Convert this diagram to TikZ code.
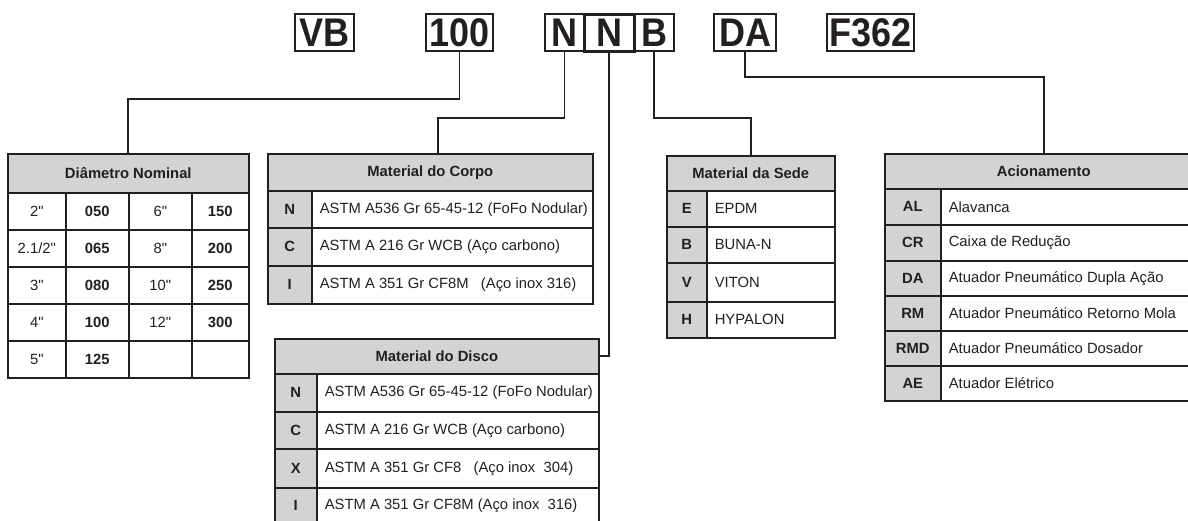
\documentclass[tikz,border=0pt]{standalone}
\usepackage{fontspec}
\setmainfont{Liberation Sans}[Ligatures=TeXOff]
\newfontfamily\codefont{Liberation Sans}[FakeStretch=0.9]
\definecolor{ink}{HTML}{231F20}
\definecolor{shade}{HTML}{D3D3D4}
\newcommand\fs{\fontsize{14.8}{16}\selectfont}
\newcommand\Cell[7]{%
  \node[cell,minimum width=#4pt,minimum height=#5pt,#6] (#1) at (#2,#3) {#7};}
\newcommand\DCell[6]{%
  \pgfmathsetmacro\tw{#4-4}%
  \node[cell,minimum width=#4pt,minimum height=#5pt] (#1) at (#2,#3) {\makebox[\tw pt][l]{\hspace*{6pt}#6}};}
\newcommand\DRow[6]{%
  \Cell{d#1a}{7}{#2}{58}{37}{}{#3}
  \Cell{d#1b}{65}{#2}{63}{37}{val}{#4}
  \Cell{d#1c}{128}{#2}{63}{37}{}{#5}
  \Cell{d#1d}{191}{#2}{57}{37}{val}{#6}}
\begin{document}
\begin{tikzpicture}[x=1pt,y=-1pt,
  cell/.style={draw=ink,line width=1.6pt,inner sep=0pt,anchor=north west,font=\fs,align=center,text=ink},
  hd/.style={fill=shade,font=\fs\bfseries},
  key/.style={fill=shade,font=\fs\bfseries},
  val/.style={font=\fs\bfseries},
  topbox/.style={draw=ink,line width=2.2pt,inner sep=0pt,anchor=north west,minimum height=37pt,text=ink,
    font=\codefont\fontsize{40}{40}\selectfont\bfseries},
  conn/.style={draw=ink,line width=1.7pt}]
\useasboundingbox (0,0) rectangle (1188,520);

% code boxes
\node[topbox,minimum width=59pt] (vb) at (294,13) {VB};
\node[topbox,minimum width=67pt] (h100) at (425,13) {100};
\node[topbox,minimum width=39pt] (n1) at (544,13) {N};
\node[topbox,minimum width=50pt,line width=2.5pt] (n2) at (583,13) {N};
\node[topbox,minimum width=40pt] (b) at (633,13) {B};
\node[topbox,minimum width=62pt] (da) at (713,13) {DA};
\node[topbox,minimum width=87pt] (f362) at (826,13) {F362};

% Diametro Nominal
\Cell{Dh}{7}{153}{241}{39}{hd}{Diâmetro Nominal}
\DRow{1}{192}{2"}{050}{6"}{150}
\DRow{2}{229}{2.1/2"}{065}{8"}{200}
\DRow{3}{266}{3"}{080}{10"}{250}
\DRow{4}{303}{4"}{100}{12"}{300}
\DRow{5}{340}{5"}{125}{}{}

% Material do Corpo
\Cell{Ch}{267}{153}{325}{37}{hd}{Material do Corpo}
\Cell{c1k}{267}{190}{44}{37}{key}{N}
\DCell{c1d}{311}{190}{281}{37}{ASTM A536 Gr 65-45-12 (FoFo Nodular)}
\Cell{c2k}{267}{227}{44}{38}{key}{C}
\DCell{c2d}{311}{227}{281}{38}{ASTM A 216 Gr WCB (Aço carbono)}
\Cell{c3k}{267}{265}{44}{38}{key}{I}
\DCell{c3d}{311}{265}{281}{38}{ASTM A 351 Gr CF8M\ \ \ (Aço inox 316)}

% Material do Disco
\Cell{Kh}{274}{338}{324}{35}{hd}{Material do Disco}
\Cell{k1k}{274}{373}{42}{38}{key}{N}
\DCell{k1d}{316}{373}{282}{38}{ASTM A536 Gr 65-45-12 (FoFo Nodular)}
\Cell{k2k}{274}{411}{42}{37}{key}{C}
\DCell{k2d}{316}{411}{282}{37}{ASTM A 216 Gr WCB (Aço carbono)}
\Cell{k3k}{274}{448}{42}{39}{key}{X}
\DCell{k3d}{316}{448}{282}{39}{ASTM A 351 Gr CF8\ \ \ (Aço inox\ \ 304)}
\Cell{k4k}{274}{487}{42}{36}{key}{I}
\DCell{k4d}{316}{487}{282}{36}{ASTM A 351 Gr CF8M (Aço inox\ \ 316)}

% Material da Sede
\Cell{Sh}{666}{155}{168}{35}{hd}{Material da Sede}
\Cell{s1k}{666}{190}{40}{36}{key}{E}
\DCell{s1d}{706}{190}{128}{36}{EPDM}
\Cell{s2k}{666}{226}{40}{36}{key}{B}
\DCell{s2d}{706}{226}{128}{36}{BUNA-N}
\Cell{s3k}{666}{262}{40}{39}{key}{V}
\DCell{s3d}{706}{262}{128}{39}{VITON}
\Cell{s4k}{666}{301}{40}{36}{key}{H}
\DCell{s4d}{706}{301}{128}{36}{HYPALON}

% Acionamento
\Cell{Ah}{884}{153}{318}{35}{hd}{Acionamento}
\Cell{a1k}{884}{188}{56}{36}{key}{AL}
\DCell{a1d}{940}{188}{262}{36}{Alavanca}
\Cell{a2k}{884}{224}{56}{36}{key}{CR}
\DCell{a2d}{940}{224}{262}{36}{Caixa de Redução}
\Cell{a3k}{884}{260}{56}{35}{key}{DA}
\DCell{a3d}{940}{260}{262}{35}{Atuador Pneumático Dupla Ação}
\Cell{a4k}{884}{295}{56}{35}{key}{RM}
\DCell{a4d}{940}{295}{262}{35}{Atuador Pneumático Retorno Mola}
\Cell{a5k}{884}{330}{56}{35}{key}{RMD}
\DCell{a5d}{940}{330}{262}{35}{Atuador Pneumático Dosador}
\Cell{a6k}{884}{365}{56}{35}{key}{AE}
\DCell{a6d}{940}{365}{262}{35}{Atuador Elétrico}

% connectors
\draw[conn] (h100.south) -- ++(0,47) -| (Dh.north);
\draw[conn] (n1.south) -- ++(0,66) -| ([xshift=8pt]Ch.north);
\draw[conn] (n2.south) |- (Kh.east);
\draw[conn] (b.south) -- ++(0,66) -| (Sh.north);
\draw[conn] (da.south) -- ++(0,25) -| (Ah.north);
\end{tikzpicture}
\end{document}
